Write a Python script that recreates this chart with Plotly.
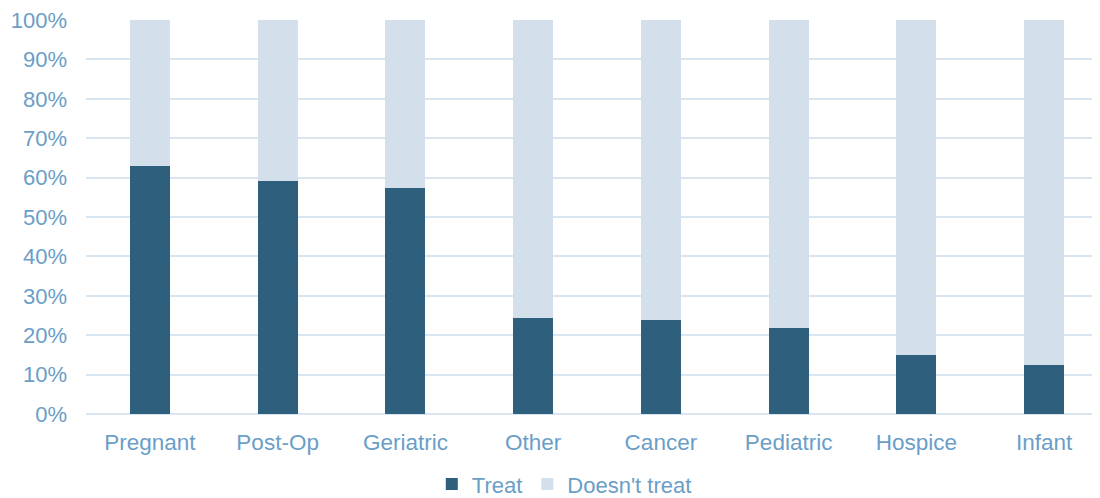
import plotly.graph_objects as go

categories = ["Pregnant", "Post-Op", "Geriatric", "Other", "Cancer", "Pediatric", "Hospice", "Infant"]
treat = [62.9, 59.2, 57.3, 24.4, 23.8, 21.9, 15.0, 12.4]
doesnt_treat = [round(100 - v, 1) for v in treat]
y_ticks = list(range(0, 101, 10))
y_tick_labels = [f"{v}%" for v in y_ticks]

DARK = "#2e5f7c"
LIGHT = "#d3e0eb"
TEXT = "#6a9ec7"
GRID = "#d9e5f0"
FONT = "Liberation Sans, Arial, sans-serif"

fig = go.Figure()
fig.add_trace(go.Bar(x=categories, y=treat, name="Treat", marker=dict(color=DARK, line=dict(width=0)), width=0.313))
fig.add_trace(go.Bar(x=categories, y=doesnt_treat, name="Doesn't treat", marker=dict(color=LIGHT, line=dict(width=0)), width=0.313))

fig.update_layout(
    width=1100, height=498,
    barmode="stack",
    plot_bgcolor="white", paper_bgcolor="white",
    margin=dict(l=78, r=0, t=12, b=92, autoexpand=False),
    font=dict(family=FONT, size=22, color=TEXT),
    xaxis=dict(range=[-0.5, 7.5], showgrid=False, showline=False, ticks="", ticklabelstandoff=12,
               ticklabeloverflow="allow", tickfont=dict(size=22.5, color=TEXT)),
    yaxis=dict(range=[0, 100], tickvals=y_ticks, ticktext=y_tick_labels, showgrid=True, gridcolor=GRID, gridwidth=2,
               zeroline=True, zerolinecolor=GRID, zerolinewidth=2, ticks="", ticklabelstandoff=18,
               ticklabeloverflow="allow", tickfont=dict(size=22, color=TEXT)),
    legend=dict(orientation="h", x=0.468, xanchor="center", y=-0.178, yanchor="middle", traceorder="normal",
                font=dict(size=22, color=TEXT), itemwidth=30),
    showlegend=True,
)

fig.write_html("out.html")
